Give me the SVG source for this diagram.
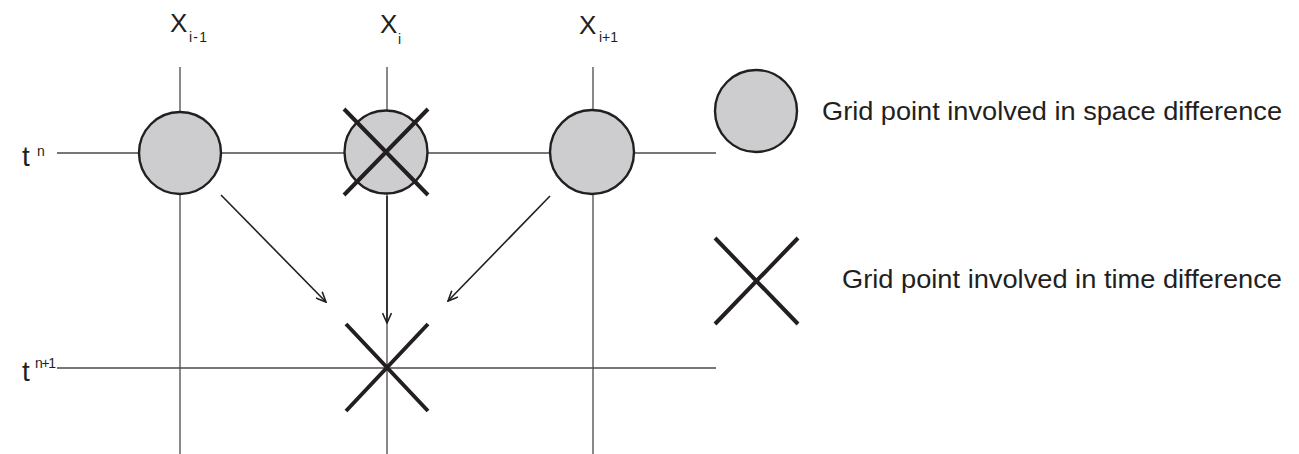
<svg xmlns="http://www.w3.org/2000/svg" width="1299" height="454" viewBox="0 0 1299 454">
<style>
.grid{stroke:#4a4a4a;stroke-width:1.3;fill:none}
.pt{fill:#cdcdcf;stroke:#231f20;stroke-width:2.4}
.x{stroke:#231f20;stroke-width:4;fill:none}
.arr{stroke:#231f20;stroke-width:1.6;fill:none}
text{font-family:"Liberation Sans",Arial,Helvetica,sans-serif;fill:#231f20}
</style>
<defs>
<marker id="ah" viewBox="0 0 12 10" refX="11" refY="5" markerWidth="12" markerHeight="10" markerUnits="userSpaceOnUse" orient="auto">
<path d="M1,0.5 L11,5 L1,9.5" fill="none" stroke="#231f20" stroke-width="1.6"/>
</marker>
</defs>
<rect width="1299" height="454" fill="#ffffff"/>
<g id="grid">
<line class="grid" x1="180" y1="67" x2="180" y2="454"/>
<line class="grid" x1="387" y1="67" x2="387" y2="454"/>
<line class="grid" x1="593" y1="67" x2="593" y2="454"/>
<line class="grid" x1="57" y1="153" x2="716" y2="153"/>
<line class="grid" x1="57" y1="368" x2="716" y2="368"/>
</g>
<g id="labels">
<text x="170" y="32" font-family="Liberation Sans, Arial, sans-serif" font-size="26">X</text>
<text x="189" y="42" font-family="Liberation Sans, Arial, sans-serif" font-size="14" textLength="18" lengthAdjust="spacing">i-1</text>
<text x="380" y="33" font-family="Liberation Sans, Arial, sans-serif" font-size="26">X</text>
<text x="398" y="44" font-family="Liberation Sans, Arial, sans-serif" font-size="14">i</text>
<text x="579" y="34" font-family="Liberation Sans, Arial, sans-serif" font-size="26">X</text>
<text x="599" y="42" font-family="Liberation Sans, Arial, sans-serif" font-size="14" textLength="19" lengthAdjust="spacing">i+1</text>
<text x="22" y="166" font-family="Liberation Sans, Arial, sans-serif" font-size="28">t</text>
<text x="37" y="156" font-family="Liberation Sans, Arial, sans-serif" font-size="14">n</text>
<text x="22" y="381" font-family="Liberation Sans, Arial, sans-serif" font-size="28">t</text>
<text x="35" y="368" font-family="Liberation Sans, Arial, sans-serif" font-size="14" textLength="21" lengthAdjust="spacing">n+1</text>
</g>
<g id="node-left">
<circle class="pt" cx="180" cy="153" r="41"/>
</g>
<g id="node-center">
<circle class="pt" cx="386" cy="152" r="41.5"/>
<path class="x" d="M344,109 L428,195 M428,109 L344,195"/>
</g>
<g id="node-right">
<circle class="pt" cx="592" cy="152" r="42"/>
</g>
<g id="node-target">
<path class="x" d="M346,324 L428,411 M428,324 L346,411"/>
</g>
<g id="connectors">
<line class="arr" x1="221" y1="195" x2="326" y2="302" marker-end="url(#ah)"/>
<line class="arr" x1="550" y1="196" x2="448" y2="301" marker-end="url(#ah)"/>
<line class="arr" x1="387" y1="196" x2="387" y2="323" stroke-width="2.6" marker-end="url(#ah)"/>
</g>
<g id="legend-space">
<circle class="pt" cx="756" cy="111" r="41"/>
<text x="822" y="120" font-family="Liberation Sans, Arial, sans-serif" font-size="25" textLength="460" lengthAdjust="spacingAndGlyphs">Grid point involved in space difference</text>
</g>
<g id="legend-time">
<path class="x" d="M715,238 L798,324 M798,238 L715,324"/>
<text x="842" y="288" font-family="Liberation Sans, Arial, sans-serif" font-size="25" textLength="440" lengthAdjust="spacingAndGlyphs">Grid point involved in time difference</text>
</g>
</svg>
